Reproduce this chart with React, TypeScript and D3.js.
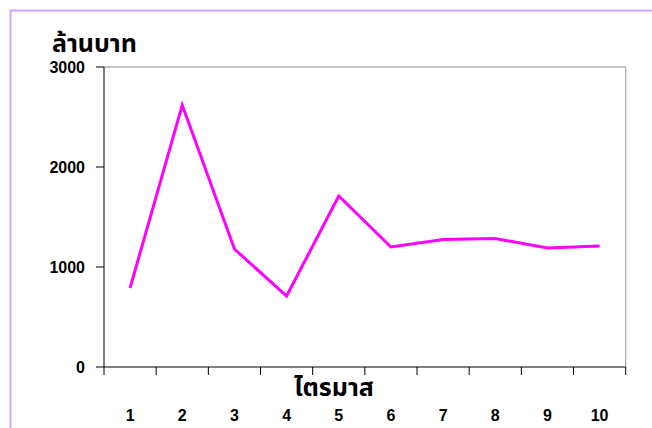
import React from "react";
import * as d3 from "d3";

// Quarterly values (million baht)
const quarters = ["1", "2", "3", "4", "5", "6", "7", "8", "9", "10"];
const values = [790, 2620, 1180, 710, 1710, 1200, 1275, 1285, 1190, 1210];
const yTicks = [0, 1000, 2000, 3000];
const yTitle = "ล้านบาท";
const xTitle = "ไตรมาส";

const W = 652;
const H = 428;
const plot = { left: 104, right: 625.7, top: 67, bottom: 367 };

export default function App() {
  const x = d3.scaleBand<string>().domain(quarters).range([plot.left, plot.right]).padding(0);
  const y = d3.scaleLinear().domain([0, 3000]).range([plot.bottom, plot.top]);
  const line = d3
    .line<number>()
    .x((_, i) => (x(quarters[i]) as number) + x.bandwidth() / 2)
    .y((v) => y(v));
  const boundaries = quarters.map((q) => x(q) as number).concat([plot.right]);
  const numFont = "'Liberation Sans', Arial, sans-serif";
  const thaiFont = "Tahoma, 'Noto Sans Thai', 'Noto Sans', 'DejaVu Sans', sans-serif";

  return (
    <svg
      width={W}
      height={H}
      style={{ position: "absolute", left: 0, top: 0, display: "block" }}
    >
      <rect x={0} y={0} width={W} height={H} fill="#fff" />
      {/* outer frame */}
      <path d={`M10.5,${H} V10.5 H${W}`} fill="none" stroke="#d3a4ff" strokeWidth={2} />

      {/* plot frame: top and right edges */}
      <line x1={plot.left} x2={plot.right} y1={plot.top} y2={plot.top} stroke="#888" strokeWidth={1} />
      <line x1={plot.right} x2={plot.right} y1={plot.top} y2={plot.bottom} stroke="#aaa" strokeWidth={1.2} />

      {/* y axis */}
      <line x1={plot.left} x2={plot.left} y1={plot.top} y2={plot.bottom} stroke="#000" strokeWidth={1} />
      {yTicks.map((t) => (
        <g key={t}>
          <line x1={plot.left - 8} x2={plot.left} y1={y(t)} y2={y(t)} stroke="#000" strokeWidth={1} />
          <text
            x={85}
            y={y(t)}
            dy="0.36em"
            textAnchor="end"
            fontFamily={numFont}
            fontWeight="bold"
            fontSize={16}
            fill="#000"
          >
            {t}
          </text>
        </g>
      ))}

      {/* x axis */}
      <line x1={plot.left} x2={plot.right} y1={plot.bottom} y2={plot.bottom} stroke="#000" strokeWidth={1} />
      {boundaries.map((b, i) => (
        <line key={i} x1={b} x2={b} y1={plot.bottom} y2={plot.bottom + 8} stroke="#000" strokeWidth={1} />
      ))}
      {quarters.map((q) => (
        <text
          key={q}
          x={(x(q) as number) + x.bandwidth() / 2}
          y={421}
          textAnchor="middle"
          fontFamily={numFont}
          fontWeight="bold"
          fontSize={16}
          fill="#000"
        >
          {q}
        </text>
      ))}

      {/* series */}
      <path d={line(values) || ""} fill="none" stroke="#ff00ff" strokeWidth={3} strokeLinejoin="miter" />

      {/* axis titles */}
      <text x={52} y={52} fontFamily={thaiFont} fontWeight="bold" fontSize={25} fill="#000">
        {yTitle}
      </text>
      <text x={334} y={396} textAnchor="middle" fontFamily={thaiFont} fontWeight="bold" fontSize={25} fill="#000">
        {xTitle}
      </text>
    </svg>
  );
}
